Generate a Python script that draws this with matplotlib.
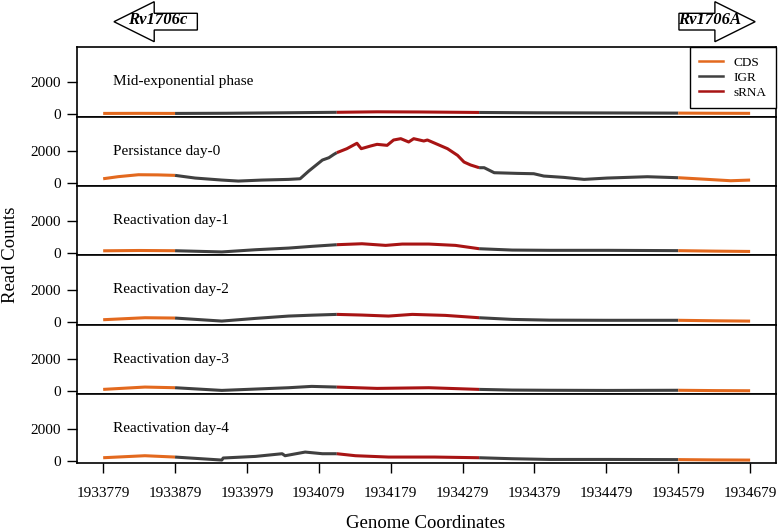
import numpy as np
import matplotlib.pyplot as plt
from matplotlib.lines import Line2D
from matplotlib.patches import Polygon

plt.rcParams['font.family'] = ['Liberation Serif', 'DejaVu Serif']

# feature layout along the genome
seg_type = ['CDS', 'IGR', 'sRNA', 'IGR', 'CDS']
seg_start = [1933779, 1933879, 1934104, 1934302, 1934579]
seg_end = [1933879, 1934104, 1934302, 1934579, 1934679]
colors = {'CDS': '#E3691E', 'IGR': '#404040', 'sRNA': '#A81414'}

panel_names = ['Mid-exponential phase', 'Persistance day-0', 'Reactivation day-1',
               'Reactivation day-2', 'Reactivation day-3', 'Reactivation day-4']

pos1 = [1933779, 1933829, 1933879, 1933950, 1934030, 1934104, 1934160, 1934220,
        1934302, 1934380, 1934480, 1934579, 1934630, 1934679]
cnt1 = [40, 45, 40, 50, 80, 110, 140, 130, 100, 80, 70, 60, 50, 45]

pos2 = [1933779, 1933800, 1933828, 1933855, 1933879, 1933907, 1933944, 1933967,
        1934000, 1934037, 1934053, 1934065, 1934084, 1934093, 1934100, 1934104,
        1934118, 1934132, 1934138, 1934151, 1934160, 1934174, 1934183, 1934193,
        1934204, 1934211, 1934225, 1934230, 1934244, 1934258, 1934272, 1934281,
        1934290, 1934302, 1934309, 1934323, 1934355, 1934378, 1934392, 1934420,
        1934448, 1934480, 1934536, 1934579, 1934620, 1934652, 1934679]
cnt2 = [290, 420, 540, 530, 500, 333, 208, 146, 208, 250, 290, 770, 1456, 1600,
        1810, 1914, 2163, 2500, 2163, 2330, 2434, 2371, 2704, 2787, 2580, 2787,
        2642, 2704, 2434, 2163, 1747, 1331, 1150, 978, 978, 666, 624, 603, 458,
        374, 250, 333, 416, 354, 250, 166, 208]

pos3 = [1933779, 1933829, 1933879, 1933944, 1933991, 1934037, 1934070, 1934104,
        1934139, 1934172, 1934195, 1934232, 1934269, 1934302, 1934348, 1934400,
        1934480, 1934579, 1934630, 1934679]
cnt3 = [120, 140, 125, 50, 187, 290, 400, 500, 560, 458, 540, 540, 458, 250, 166,
        150, 150, 130, 100, 80]

pos4 = [1933779, 1933837, 1933879, 1933944, 1933991, 1934037, 1934070, 1934104,
        1934139, 1934176, 1934209, 1934255, 1934302, 1934348, 1934400, 1934480,
        1934579, 1934630, 1934679]
cnt4 = [146, 270, 250, 62, 229, 374, 430, 478, 437, 374, 478, 416, 270, 166, 120,
        110, 110, 80, 60]

pos5 = [1933779, 1933837, 1933879, 1933944, 1933991, 1934037, 1934069, 1934104,
        1934160, 1934232, 1934302, 1934348, 1934400, 1934480, 1934579, 1934630,
        1934679]
cnt5 = [125, 270, 229, 62, 146, 229, 312, 270, 187, 229, 125, 83, 70, 60, 70, 50, 40]

pos6 = [1933779, 1933837, 1933879, 1933944, 1933946, 1933991, 1934028, 1934032,
        1934060, 1934084, 1934104, 1934130, 1934176, 1934240, 1934302, 1934348,
        1934400, 1934480, 1934579, 1934630, 1934679]
cnt6 = [187, 312, 229, 42, 170, 270, 437, 312, 540, 437, 437, 312, 229, 229, 187,
        125, 80, 80, 70, 50, 40]

positions = [pos1, pos2, pos3, pos4, pos5, pos6]
counts = [cnt1, cnt2, cnt3, cnt4, cnt5, cnt6]

xticks = np.arange(1933779, 1934680, 100)
xlim = (1933779 - 36, 1934679 + 36)
ylim = (-160, 4160)

fig = plt.figure(figsize=(7.78, 5.31), dpi=100)
left, right = 77.3 / 778, 776 / 778
top, bottom = 1 - 47.3 / 531, 1 - 463.3 / 531
gs = fig.add_gridspec(6, 1, left=left, right=right, top=top, bottom=bottom, hspace=0)

for k in range(6):
    ax = fig.add_subplot(gs[k])
    p = np.array(positions[k])
    c = np.array(counts[k])
    for t, s, e in zip(seg_type, seg_start, seg_end):
        m = (p >= s) & (p <= e)
        ax.plot(p[m], c[m], color=colors[t], lw=2.2, solid_capstyle='butt')
    ax.set_xlim(xlim)
    ax.set_ylim(ylim)
    ax.set_yticks([0, 2000])
    ax.tick_params(axis='y', direction='out', length=7, width=1, pad=5, labelsize=11)
    ax.text(1933793, 2000, panel_names[k], fontsize=11, va='center', ha='left')
    for sp in ax.spines.values():
        sp.set_linewidth(1.2)
    if k < 5:
        ax.set_xticks([])
    else:
        ax.set_xticks(xticks)
        ax.set_xticklabels([str(v) for v in xticks])
        ax.tick_params(axis='x', direction='out', length=7.2, width=1, pad=10,
                       labelsize=11)
    if k == 0:
        handles = [Line2D([], [], color=colors[t], lw=1.8) for t in ['CDS', 'IGR', 'sRNA']]
        ax.legend(handles, ['CDS', 'IGR', 'sRNA'], loc='upper right', borderaxespad=0,
                  fontsize=9.5, fancybox=False, edgecolor='black', framealpha=1,
                  handlelength=1.8, handletextpad=0.8, labelspacing=0.2,
                  borderpad=0.7).get_frame().set_linewidth(1)

fig.text(426, 531 - 523, 'Genome Coordinates', transform=None, fontsize=13.5,
         ha='center', va='center')
fig.text(11, 531 - 255, 'Read Counts', transform=None, fontsize=13.5,
         ha='center', va='center', rotation=90)

# gene arrows above the panels
axa = fig.add_axes([left, top, right - left, 1 - top])
axa.set_xlim(xlim)
axa.set_ylim(47.3, 0)
axa.axis('off')
left_arrow_x = [1933794, 1933850, 1933910]
right_arrow_x = [1934580, 1934630, 1934686]
a, b, cc = left_arrow_x
axa.add_patch(Polygon([(a, 21.7), (b, 1.7), (b, 13.3), (cc, 13.3), (cc, 30), (b, 30),
                       (b, 41.7)], closed=True, fc='white', ec='black', lw=1))
axa.text(1933855, 20.5, 'Rv1706c', fontsize=12, fontweight='bold', fontstyle='italic',
         ha='center', va='center')
a, b, cc = right_arrow_x
axa.add_patch(Polygon([(cc, 21.7), (b, 1.7), (b, 13.3), (a, 13.3), (a, 30), (b, 30),
                       (b, 41.7)], closed=True, fc='white', ec='black', lw=1))
axa.text(1934622, 20.5, 'Rv1706A', fontsize=12, fontweight='bold', fontstyle='italic',
         ha='center', va='center')

fig.savefig('out.png', dpi=100)
